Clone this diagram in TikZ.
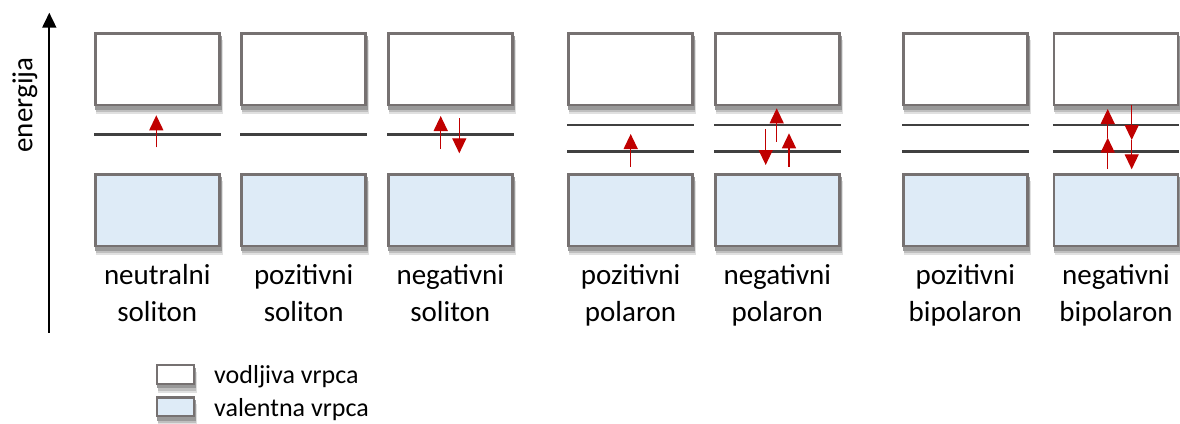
\documentclass[tikz,border=0pt]{standalone}
\usepackage{fontspec}
\setmainfont{Carlito}
\usetikzlibrary{arrows.meta,calc,backgrounds}
\definecolor{bandgray}{HTML}{767171}
\definecolor{valblue}{HTML}{DEEBF7}
\definecolor{spinred}{HTML}{C00000}
\definecolor{levelgray}{HTML}{404040}

\tikzset{
  band/.style={draw=bandgray,line width=2.5pt,minimum width=124pt,minimum height=71.5pt,inner sep=0pt},
  cband/.style={band,fill=white},
  vband/.style={band,fill=valblue},
  keybox/.style={minimum width=36.5pt,minimum height=18.5pt,line width=2.2pt},
  level/.style={draw=levelgray,line width=2.6pt},
  spin/.style={draw=spinred,line width=1.3pt,-{Triangle[length=15pt,width=14pt]}},
  lbl/.style={align=center,inner sep=0pt,font=\fontsize{29}{37.7}\selectfont}
}
% soft shadow under a band node
\newcommand{\bandshade}[1]{%
  \fill[black!12] ([xshift=2pt,yshift=-8pt]#1.south west) rectangle ([xshift=2pt,yshift=-8pt]#1.north east);
  \fill[black!25] ([xshift=1.5pt,yshift=-6pt]#1.south west) rectangle ([xshift=1.5pt,yshift=-6pt]#1.north east);
  \fill[black!40] ([xshift=1pt,yshift=-3.5pt]#1.south west) rectangle ([xshift=1pt,yshift=-3.5pt]#1.north east);
}

\begin{document}
\begin{tikzpicture}[x=1pt,y=-1pt]
  \useasboundingbox (0,0) rectangle (1180,423);
  % energy axis
  \coordinate (axb) at (49.3,332.7);
  \coordinate (axt) at (49.3,12.7);
  \draw[line width=1.8pt,-{Triangle[length=15pt,width=14pt]}] (axb) -- (axt);
  \node[rotate=90,inner sep=0pt,font=\fontsize{29}{35}\selectfont] (elbl) at (25,105) {energija};
  % bands and captions
  \foreach \i/\x/\a/\b in {1/157.3/neutralni/soliton,2/303.7/pozitivni/soliton,3/450.3/negativni/soliton,
      4/630.6/pozitivni/polaron,5/777.3/negativni/polaron,6/965.3/pozitivni/bipolaron,7/1116/negativni/bipolaron}{
    \node[cband] (c\i) at (\x,69) {};
    \node[vband] (v\i) at (\x,210) {};
    \node[lbl,anchor=base] (t\i) at (\x,321.7) {\a\\\b};
  }
  % gap levels
  \coordinate (ymid) at (0,134.7);
  \coordinate (yhi) at (0,125);
  \coordinate (ylo) at (0,151.7);
  \foreach \i in {1,2,3}
    \draw[level] (c\i.west |- ymid) -- (c\i.east |- ymid);
  \foreach \i in {4,...,7}{
    \draw[level] (c\i.west |- yhi) -- (c\i.east |- yhi);
    \draw[level] (c\i.west |- ylo) -- (c\i.east |- ylo);
  }
  % spins
  \draw[spin] (156.3,147.3) -- (156.3,115.3);
  \draw[spin] (440.7,148.7) -- (440.7,116);
  \draw[spin] (459.3,118) -- (459.3,153.3);
  \draw[spin] (630.7,166.7) -- (630.7,134);
  \draw[spin] (765.7,129.3) -- (765.7,165);
  \draw[spin] (776.7,141.7) -- (776.7,108.3);
  \draw[spin] (789,166.7) -- (789,133.3);
  \draw[spin] (1107.7,169) -- (1107.7,137.7);
  \draw[spin] (1107.7,137.7) -- (1107.7,109);
  \draw[spin] (1131.7,105) -- (1131.7,140);
  \draw[spin] (1131.7,140) -- (1131.7,169.3);
  % legend
  \node[cband,keybox] (kc) at (175.5,374.5) {};
  \node[vband,keybox] (kv) at (175.5,406.7) {};
  \node[anchor=base west,inner sep=0pt,font=\fontsize{26}{32}\selectfont] (kct) at (214,383) {vodljiva vrpca};
  \node[anchor=base west,inner sep=0pt,font=\fontsize{26}{32}\selectfont] (kvt) at (214,416) {valentna vrpca};
  % shadows
  \begin{scope}[on background layer]
    \foreach \i in {1,...,7}{\bandshade{c\i}\bandshade{v\i}}
    \bandshade{kc}\bandshade{kv}
  \end{scope}
\end{tikzpicture}
\end{document}
